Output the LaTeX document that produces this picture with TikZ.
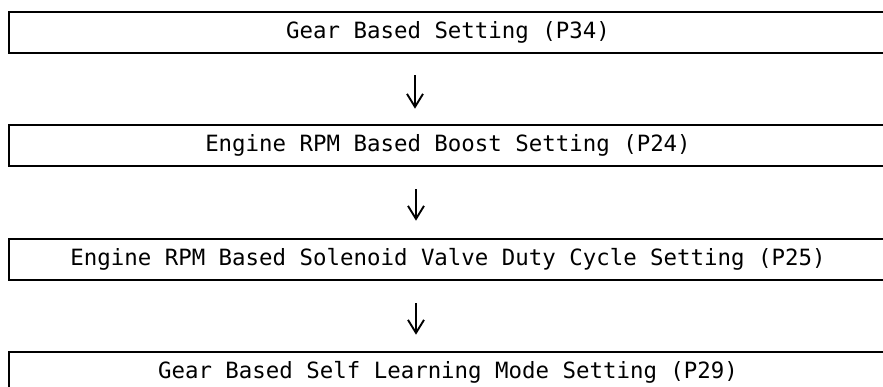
\documentclass[tikz,border=0pt]{standalone}
\usepackage{fontspec}
\setmonofont{DejaVu Sans Mono}
\usetikzlibrary{arrows.meta}
\begin{document}
\begin{tikzpicture}[x=1pt,y=-1pt,
  stepbox/.style={draw=black, line width=2.6pt, minimum width=878pt, minimum height=41pt,
    inner sep=0pt, font=\ttfamily\fontsize{22.4pt}{24pt}\selectfont, text=black},
  flowarrow/.style={line width=1.9pt, -{Straight Barb[length=13pt,width=16pt,line width=1.9pt]}}]
\useasboundingbox (0,0) rectangle (883,387);
\clip (0,0) rectangle (883,387);
\fill[white] (0,0) rectangle (883,387);
\node[stepbox] (b1) at (448,32.5) {Gear Based Setting (P34)};
\node[stepbox] (b2) at (448,145.5) {Engine RPM Based Boost Setting (P24)};
\node[stepbox] (b3) at (448,259.5) {Engine RPM Based Solenoid Valve Duty Cycle Setting (P25)};
\node[stepbox] (b4) at (448,372.5) {Gear Based Self Learning Mode Setting (P29)};
\draw[flowarrow] ([xshift=-33pt,yshift=-21pt]b1.south) -- ([xshift=-33pt,yshift=15pt]b2.north);
\draw[flowarrow] ([xshift=-32pt,yshift=-22pt]b2.south) -- ([xshift=-32pt,yshift=17pt]b3.north);
\draw[flowarrow] ([xshift=-32pt,yshift=-22pt]b3.south) -- ([xshift=-32pt,yshift=16pt]b4.north);
\end{tikzpicture}
\end{document}
